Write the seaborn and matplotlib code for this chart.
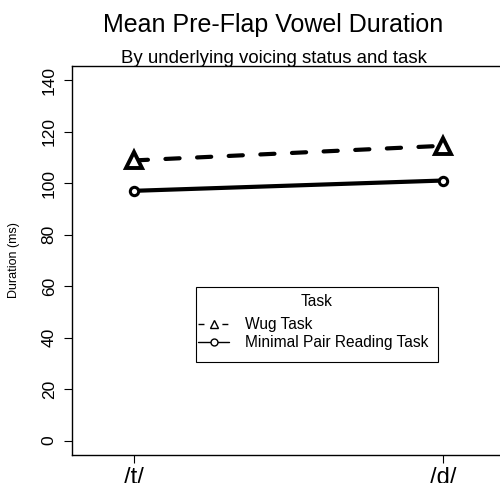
import matplotlib
matplotlib.use("Agg")
import matplotlib.pyplot as plt
from matplotlib.lines import Line2D
from matplotlib.patches import Rectangle
import seaborn as sns
import pandas as pd

voicing = ["/t/", "/d/"]
tasks = ["Wug Task", "Minimal Pair Reading Task"]
wug_ms = [108.8, 114.5]
minpair_ms = [97.0, 101.0]
y_ticks = [0, 20, 40, 60, 80, 100, 120, 140]

df = pd.DataFrame({
    "voicing": voicing * 2,
    "task": [tasks[0]] * 2 + [tasks[1]] * 2,
    "duration": wug_ms + minpair_ms,
})

sns.set_style("white")
plt.rcParams["font.family"] = ["Liberation Sans", "DejaVu Sans"]
plt.rcParams["text.color"] = "black"
plt.rcParams["axes.labelcolor"] = "black"

W, H = 500, 483
fig = plt.figure(figsize=(5, 4.83), dpi=100)
ax = fig.add_axes([72 / W, 28 / H, 432.6 / W, 389.3 / H])

sns.lineplot(data=df, x="voicing", y="duration", hue="task", style="task",
             palette=["black", "black"], hue_order=tasks, style_order=tasks,
             dashes={tasks[0]: (3.4, 4.2), tasks[1]: ""},
             markers={tasks[0]: "^", tasks[1]: "o"},
             lw=3, sort=False, legend=False, ax=ax)

for line in ax.lines:
    line.set_markerfacecolor("white")
    line.set_markeredgecolor("black")
    line.set_dash_capstyle("round")
    line.set_solid_capstyle("round")
    if line.get_marker() == "^":
        line.set_markersize(12)
        line.set_markeredgewidth(2.8)
    else:
        line.set_markersize(6)
        line.set_markeredgewidth(2.2)

ax.set_xlim(-0.2, 1.2)
ax.set_ylim(-5.6, 145.6)
ax.set_yticks(y_ticks)
ax.set_yticklabels([str(v) for v in y_ticks], rotation=90, va="center", fontsize=12.5)
ax.set_xticks([0, 1])
ax.set_xticklabels(voicing, fontsize=17)
ax.tick_params(axis="y", length=6, width=0.8, pad=5, colors="black", direction="out", left=True)
ax.tick_params(axis="x", length=6, width=0.8, pad=3, colors="black", direction="out", bottom=True)
ax.set_xlabel("")
ax.set_ylabel("Duration (ms)", fontsize=9)
ax.yaxis.set_label_coords((19.5 - 72) / 432.6, 0.501)
for sp in ax.spines.values():
    sp.set_color("black")
    sp.set_linewidth(1.0)

fig.text(273.5 / W, 1 - 32 / H, "Mean Pre-Flap Vowel Duration", ha="center", va="baseline", fontsize=18)
fig.text(273.5 / W, 1 - 63 / H, "By underlying voicing status and task", ha="center", va="baseline", fontsize=13.4)

# legend box drawn as a plain rectangle, title and entries placed inside it
fig.patches.append(Rectangle((196 / W, 1 - 362 / H), (438 - 196) / W, (362 - 287) / H,
                             transform=fig.transFigure, fill=False, edgecolor="black", lw=0.8))
fig.text(317 / W, 1 - 301 / H, "Task", ha="center", va="center", fontsize=11.2)
handles = [
    Line2D([], [], color="black", lw=1, ls=(0, (4.3, 12.9)), marker="^", markersize=6,
           markerfacecolor="white", markeredgewidth=1),
    Line2D([], [], color="black", lw=1, marker="o", markersize=5,
           markerfacecolor="white", markeredgewidth=1),
]
ax.legend(handles, tasks, loc="upper left",
          bbox_to_anchor=(198 / W, 1 - 317 / H), bbox_transform=fig.transFigure,
          fontsize=11.2, frameon=False,
          handlelength=2.0, handletextpad=1.0,
          borderpad=0, labelspacing=0.2, borderaxespad=0)

fig.savefig("out.png", dpi=100)
